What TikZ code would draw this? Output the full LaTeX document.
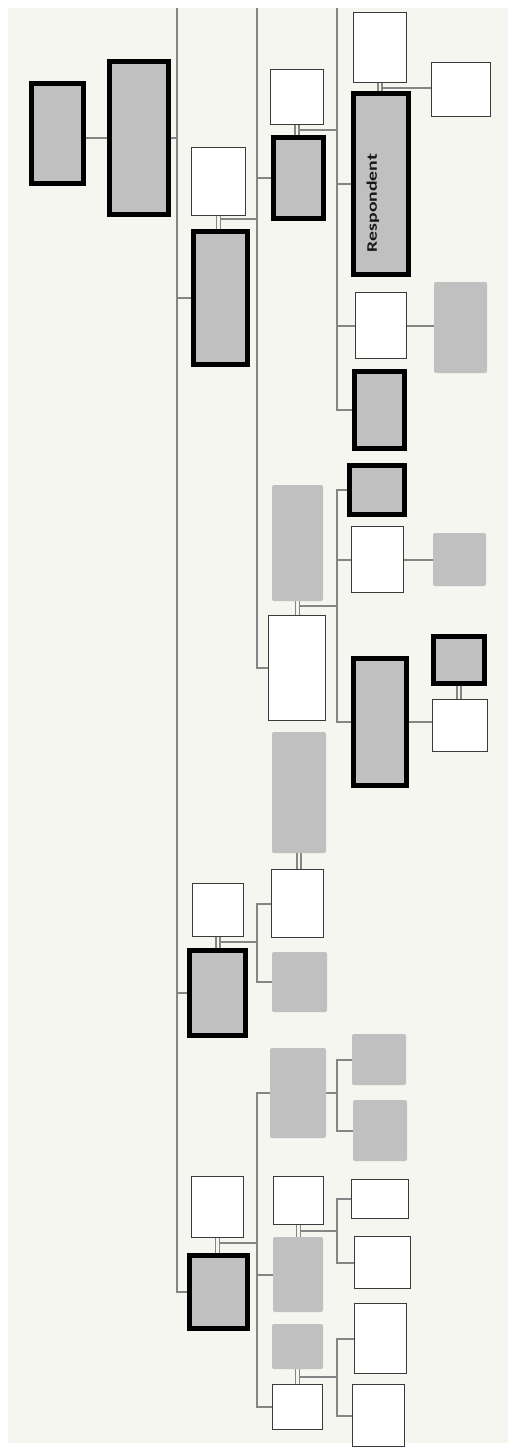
\documentclass[tikz,border=0pt]{standalone}
\usepackage{fontspec}
\setmainfont{Carlito}
\usepackage{graphicx}
\definecolor{bgc}{HTML}{F6F6F0}
\definecolor{boxgray}{HTML}{C0C0C0}
\definecolor{boxline}{HTML}{3A3A3A}
\definecolor{lineg}{HTML}{858585}
\pgfdeclarelayer{bglayer}
\pgfdeclarelayer{lines}
\pgfsetlayers{bglayer,lines,main}
\tikzset{
  tbox/.style={draw=black, line width=5pt, fill=boxgray, inner sep=0pt, outer sep=0pt},
  wbox/.style={draw=boxline, line width=1.3pt, fill=white, inner sep=0pt, outer sep=0pt},
  gbox/.style={fill=boxgray, rounded corners=2pt, inner sep=0pt, outer sep=0pt},
  conn/.style={draw=lineg, line width=2pt},
  dbl/.style={draw=lineg, line width=1.2pt},
}
\newcommand\tbx[5]{\node[tbox, minimum width={#4-#2-5}, minimum height={#5-#3-5}] (#1) at ({(#2+#4)/2},{(#3+#5)/2}) {};}
\newcommand\wbx[5]{\node[wbox, minimum width={#4-#2-1.3}, minimum height={#5-#3-1.3}] (#1) at ({(#2+#4)/2},{(#3+#5)/2}) {};}
\newcommand\gbx[5]{\node[gbox, minimum width={#4-#2}, minimum height={#5-#3}] (#1) at ({(#2+#4)/2},{(#3+#5)/2}) {};}
% couple: upper, lower, drop of junction, junction name
\newcommand\couple[4]{%
  \draw[dbl] ([xshift=-2pt]#1.south) -- ([xshift=-2pt]#1.south |- #2.north);
  \draw[dbl] ([xshift=2pt]#1.south) -- ([xshift=2pt]#1.south |- #2.north);
  \path ([xshift=2pt]#1.south) ++(0,#3) coordinate (#4);}
\newcommand\couplenj[2]{%
  \draw[dbl] ([xshift=-2pt]#1.south) -- ([xshift=-2pt]#1.south |- #2.north);
  \draw[dbl] ([xshift=2pt]#1.south) -- ([xshift=2pt]#1.south |- #2.north);}
\begin{document}
\begin{tikzpicture}[x=1pt, y=-1pt]
\useasboundingbox (0,0) rectangle (508,1450);
\begin{pgfonlayer}{bglayer}
  \fill[white] (0,0) rectangle (508,1450);
  \fill[bgc] (8,8) rectangle (508,1443);
\end{pgfonlayer}

% thick gray boxes
\tbx{A}{29}{81}{86}{186}
\tbx{B}{107}{59}{171}{217}
\tbx{F}{191}{229}{250}{367}
\tbx{D}{271}{135}{326}{221}
\tbx{H}{351}{91}{411}{277}
\tbx{L}{352}{369}{407}{451}
\tbx{M}{347}{463}{407}{517}
\tbx{R}{351}{656}{409}{788}
\tbx{S}{431}{634}{487}{686}
\tbx{X}{187}{948}{248}{1038}
\tbx{AD}{187}{1253}{250}{1331}
% white boxes
\wbx{E}{191}{147}{246}{216}
\wbx{C}{270}{69}{324}{125}
\wbx{G}{353}{12}{407}{83}
\wbx{I}{431}{62}{491}{117}
\wbx{J}{355}{292}{407}{359}
\wbx{N}{351}{526}{404}{593}
\wbx{Q}{268}{615}{326}{721}
\wbx{T}{432}{699}{488}{752}
\wbx{V}{271}{869}{324}{938}
\wbx{W}{192}{883}{244}{937}
\wbx{AC}{191}{1176}{244}{1238}
\wbx{AE}{273}{1176}{324}{1225}
\wbx{AG}{351}{1179}{409}{1219}
\wbx{AH}{354}{1236}{411}{1289}
\wbx{AJ}{272}{1384}{323}{1430}
\wbx{AK}{354}{1303}{407}{1374}
\wbx{AL}{352}{1384}{405}{1447}
% gray borderless boxes
\gbx{K}{434}{282}{487}{373}
\gbx{O}{433}{533}{486}{586}
\gbx{P}{272}{485}{323}{601}
\gbx{U}{272}{732}{326}{853}
\gbx{Y}{272}{952}{327}{1012}
\gbx{Z}{270}{1048}{326}{1138}
\gbx{AA}{352}{1034}{406}{1085}
\gbx{AB}{353}{1100}{407}{1161}
\gbx{AF}{273}{1237}{323}{1312}
\gbx{AI}{272}{1324}{323}{1369}

\node[rotate=90, inner sep=0pt, text=black!90] (resp) at (373,203)
  {\resizebox*{98pt}{12.5pt}{\bfseries Respondent}};

\coordinate (b1) at (177,8);
\coordinate (b2) at (257,8);
\coordinate (b3) at (337,8);

\begin{pgfonlayer}{lines}
  % column 1
  \draw[conn] (A.east |- B.west) -- (B.west);
  \draw[conn] (B.east) -- (b1 |- B.east);
  \draw[conn] (b1) -- (b1 |- AD.west) -- (AD.west);
  \draw[conn] (b1 |- F.west) -- (F.west);
  \draw[conn] (b1 |- X.west) -- (X.west);
  % E-F
  \couple{E}{F}{4}{jEF}
  \draw[conn] (jEF) -- (jEF -| b2);
  \draw[conn] (b2) -- (b2 |- Q.west) -- (Q.west);
  \draw[conn] (b2 |- D.west) -- (D.west);
  % C-D
  \couple{C}{D}{6}{jCD}
  \draw[conn] (jCD) -- (jCD -| b3);
  \draw[conn] (b3) -- (b3 |- L.west) -- (L.west);
  \draw[conn] (b3 |- H.west) -- (H.west);
  \draw[conn] (b3 |- J.west) -- (J.west);
  \draw[conn] (J.east) -- (J.east -| K.west);
  % G-H
  \couple{G}{H}{6}{jGH}
  \draw[conn] (jGH) -- (jGH -| I.west);
  % P-Q
  \couple{P}{Q}{5}{jPQ}
  \draw[conn] (jPQ) -- (jPQ -| b3);
  \draw[conn] (M.west) -- (M.west -| b3) -- (b3 |- R.west) -- (R.west);
  \draw[conn] (b3 |- N.west) -- (N.west);
  \draw[conn] (N.east) -- (N.east -| O.west);
  \draw[conn] (R.east) -- (R.east -| T.west);
  \couplenj{S}{T}
  \couplenj{U}{V}
  % W-X
  \couple{W}{X}{6}{jWX}
  \draw[conn] (jWX) -- (jWX -| b2);
  \draw[conn] (V.west) -- (V.west -| b2) -- (b2 |- Y.west) -- (Y.west);
  % Z and AC-AD
  \draw[conn] (Z.west) -- (Z.west -| b2) -- (b2 |- AJ.west) -- (AJ.west);
  \draw[conn] (Z.east) -- (Z.east -| b3);
  \draw[conn] (AA.west) -- (AA.west -| b3) -- (b3 |- AB.west) -- (AB.west);
  \couple{AC}{AD}{6}{jACAD}
  \draw[conn] (jACAD) -- (jACAD -| b2);
  \draw[conn] (b2 |- AF.west) -- (AF.west);
  % AE-AF
  \couple{AE}{AF}{7}{jAEAF}
  \draw[conn] (jAEAF) -- (jAEAF -| b3);
  \draw[conn] (AG.west) -- (AG.west -| b3) -- (b3 |- AH.west) -- (AH.west);
  % AI-AJ
  \couple{AI}{AJ}{8}{jAIAJ}
  \draw[conn] (jAIAJ) -- (jAIAJ -| b3);
  \draw[conn] (AK.west) -- (AK.west -| b3) -- (b3 |- AL.west) -- (AL.west);
\end{pgfonlayer}
\end{tikzpicture}
\end{document}
